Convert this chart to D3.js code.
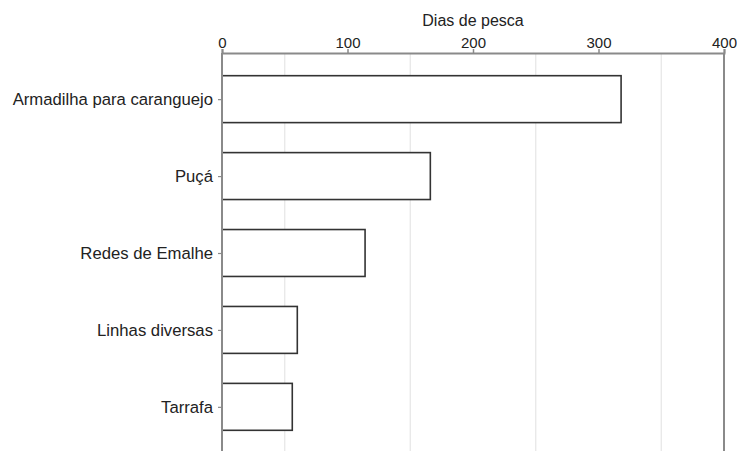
<!DOCTYPE html>
<html><head><meta charset="utf-8">
<script src="https://cdn.jsdelivr.net/npm/d3@7"></script>
<style>body{margin:0;background:#fff}svg{display:block}text{font-family:"Liberation Sans",Arial,sans-serif;fill:#222}</style>
</head><body><svg id="c" width="737" height="451"></svg>
<script>
const categories = ["Armadilha para caranguejo","Puçá","Redes de Emalhe","Linhas diversas","Tarrafa"];
const values = [318, 166, 114, 60, 56];
const xTicks = [0,100,200,300,400];
const minorGrid = [50,150,250,350];
const xTitle = "Dias de pesca";

const svg = d3.select("#c");
const m = {left:222, right:13, top:53};
const W = 737, H = 451;
const x = d3.scaleLinear().domain([0,400]).range([m.left, W - m.right]);
const y = d3.scalePoint().domain(categories).range([m.top, m.top + 400]).padding(0.6);
const bh = y.step() * 0.61;

// grid
svg.append("g").selectAll("line").data(minorGrid).join("line")
  .attr("x1", d=>x(d)).attr("x2", d=>x(d)).attr("y1", m.top).attr("y2", H)
  .attr("stroke", "#e6e6e6").attr("stroke-width", 1.2);
// right border at 400
svg.append("line").attr("x1", x(400)).attr("x2", x(400)).attr("y1", m.top).attr("y2", H)
  .attr("stroke", "#8a8a8a").attr("stroke-width", 2);

// bars
svg.append("g").selectAll("rect").data(categories).join("rect")
  .attr("x", x(0)).attr("y", d=>y(d) - bh/2)
  .attr("width", (d,i)=>x(values[i]) - x(0)).attr("height", bh)
  .attr("fill", "#fff").attr("stroke", "#333").attr("stroke-width", 1.6);

// top axis
const gx = svg.append("g").attr("transform", `translate(0,${m.top})`)
  .call(d3.axisTop(x).tickValues(xTicks).tickSize(4).tickPadding(1).tickFormat(d3.format("d")));
gx.select(".domain").attr("stroke", "#8a8a8a").attr("stroke-width", 2);
gx.selectAll(".tick line").attr("stroke", "#8a8a8a").attr("stroke-width", 1.5);
gx.selectAll(".tick text").style("font-size", "15px").attr("fill", "#222");

// left axis
const gy = svg.append("g").attr("transform", `translate(${m.left},0)`)
  .call(d3.axisLeft(y).tickSize(4).tickPadding(5));
gy.select(".domain").remove();
svg.append("line").attr("x1", m.left).attr("x2", m.left).attr("y1", m.top).attr("y2", H)
  .attr("stroke", "#8a8a8a").attr("stroke-width", 2);
gy.selectAll(".tick line").attr("stroke", "#8a8a8a").attr("stroke-width", 1.2);
gy.selectAll(".tick text").style("font-size", "16.7px").attr("fill", "#222");

svg.append("text").attr("x", (x(0)+x(400))/2).attr("y", 26).attr("text-anchor", "middle")
  .style("font-size", "16px").text(xTitle);
</script></body></html>
